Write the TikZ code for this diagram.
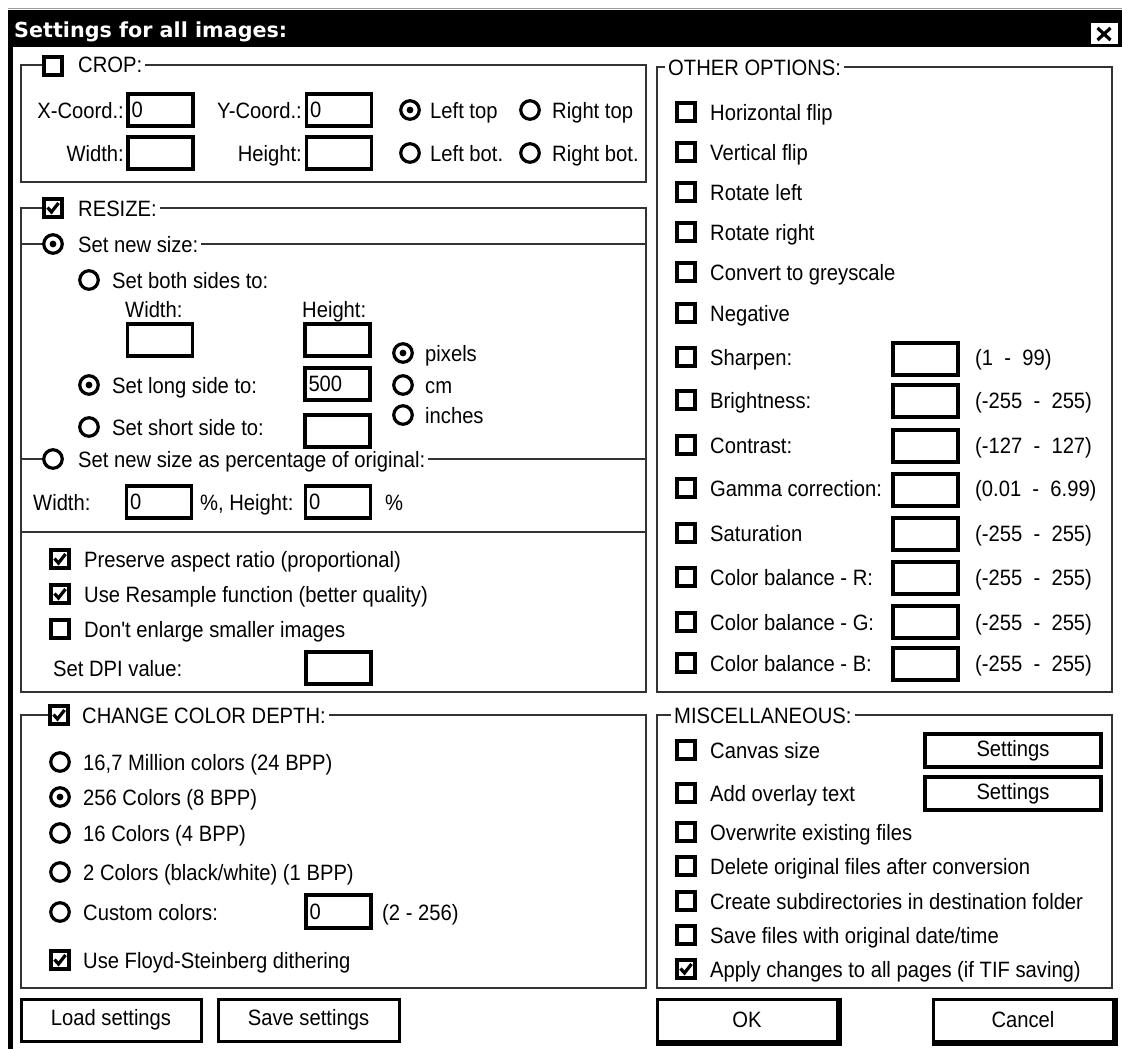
\documentclass[tikz,border=0pt]{standalone}
\usepackage{fontspec}
\setmainfont{Liberation Sans}
\newfontfamily\uifont{Liberation Sans}[FakeStretch=0.91]
\newfontfamily\ttlfont{DejaVu Sans}
\begin{document}
\begin{tikzpicture}[x=1pt,y=-1pt,
  ui/.style={font=\uifont\fontsize{22.2}{25}\selectfont},
  lbl/.style={ui, anchor=base west, inner sep=0pt},
  lblr/.style={ui, anchor=base east, inner sep=0pt},
  grp/.style={draw=black!80, line width=1.7pt},
  ghead/.style={ui, anchor=base west, fill=white, inner xsep=3pt, inner ysep=2pt},
  chk/.style={draw=black, line width=3.5pt, fill=white, minimum size=18pt, inner sep=0pt},
  chkd/.style={chk, path picture={\draw[black, line width=3.2pt] ([shift={(-5.5,-0.5)}]path picture bounding box.center) -- ([shift={(-1.5,4)}]path picture bounding box.center) -- ([shift={(5.5,-5)}]path picture bounding box.center);}},
  radio/.style={circle, draw=black, line width=3.2pt, fill=white, minimum size=18.5pt, inner sep=0pt},
  radiosel/.style={radio, path picture={\fill[black] (path picture bounding box.center) circle (3.4pt);}},
  field/.style={ui, draw=black, line width=3.6pt, fill=white, text width=58pt, align=left, inner xsep=3.5pt, inner ysep=0pt, minimum height=32.5pt},
  btn/.style={ui, draw=black, line width=3pt, fill=white, inner sep=0pt},
  shadow/.style={line width=4pt}
]
\fill[white] (0,0) rectangle (1122,1049);
\useasboundingbox (0,0) rectangle (1122,1049);

% window frame and title bar
\draw[black!40, line width=1pt] (8,8.5) -- (1122,8.5);
\fill[black] (8,10) rectangle (1122,47);
\fill[black] (8,10) rectangle (12.5,1049);
\node[anchor=base west, text=white, font=\ttlfont\bfseries\fontsize{20.7}{24}\selectfont, inner sep=0pt] (title) at (14,38) {Settings for all images:};
\node[fill=white, minimum width=27pt, minimum height=21pt, inner sep=0pt] (close) at (1104,34) {};
\draw[line width=3.2pt] ([shift={(-6.5,-6)}]close.center) -- ([shift={(6.5,6)}]close.center);
\draw[line width=3.2pt] ([shift={(-6.5,6)}]close.center) -- ([shift={(6.5,-6)}]close.center);

% ---------------- CROP ----------------
\draw[grp] (21,65) rectangle (646,182);
\node[ghead] (croph) at (61,72.5) {\hspace{14pt}CROP:};
\node[chk] (cropchk) at (53,66) {};
\node[lblr] (xcl) at (124,118) {X-Coord.:};
\node[field] (xcf) at (160.5,110) {0};
\node[lblr] (ycl) at (302,118) {Y-Coord.:};
\node[field] (ycf) at (339,110) {0};
\node[lblr] (cwl) at (124,161) {Width:};
\node[field] (cwf) at (160.5,153) {};
\node[lblr] (chl) at (302,161) {Height:};
\node[field] (chf) at (339,153) {};
\node[radiosel] (rlt) at (410,110) {};
\node[lbl] (rltl) at (430,118) {Left top};
\node[radio] (rrt) at (530,110) {};
\node[lbl] (rrtl) at (552,118) {Right top};
\node[radio] (rlb) at (410,153) {};
\node[lbl] (rlbl) at (430,161) {Left bot.};
\node[radio] (rrb) at (530,153) {};
\node[lbl] (rrbl) at (552,161) {Right bot.};

% ---------------- RESIZE ----------------
\draw[grp] (21,208) rectangle (646,532);
\node[ghead] (resh) at (61,216) {\hspace{14pt}RESIZE:};
\node[chkd] (reschk) at (53,208) {};
\draw[grp] (21,244) -- (646,244);
\node[ghead] (newh) at (61,252) {\hspace{14pt}Set new size:};
\node[radiosel] (newr) at (53,244) {};
\node[radio] (bothr) at (89,280) {};
\node[lbl] (bothl) at (112,288) {Set both sides to:};
\node[lbl] (bwl) at (125,317.5) {Width:};
\node[lbl] (bhl) at (302,317.5) {Height:};
\node[field] (bwf) at (160,340) {};
\node[field] (bhf) at (337.5,340) {};
\node[radiosel] (pxr) at (403,353) {};
\node[lbl] (pxl) at (425,361) {pixels};
\node[radio] (cmr) at (403,385) {};
\node[lbl] (cml) at (425,393) {cm};
\node[radio] (inr) at (403,415) {};
\node[lbl] (inl) at (425,423) {inches};
\node[radiosel] (longr) at (89,385) {};
\node[lbl] (longl) at (112,393) {Set long side to:};
\node[field] (longf) at (337.5,384) {500};
\node[radio] (shortr) at (89,427) {};
\node[lbl] (shortl) at (112,435) {Set short side to:};
\node[field] (shortf) at (337.5,431) {};
\draw[grp] (21,459) -- (646,459);
\node[ghead] (pcth) at (61,467) {\hspace{14pt}Set new size as percentage of original:};
\node[radio] (pctr) at (53,459) {};
\node[lbl] (pwl) at (33,510) {Width:};
\node[field] (pwf) at (159,502) {0};
\node[lbl] (phl) at (200,510) {\%, Height:};
\node[field] (phf) at (338,502) {0};
\node[lbl] (ppl) at (385,510) {\%};

% ---------------- options ----------------
\draw[grp] (646,532) |- (21,692) -- (21,532);
\node[chkd] (presc) at (60,559) {};
\node[lbl] (presl) at (84,567) {Preserve aspect ratio (proportional)};
\node[chkd] (resac) at (60,594) {};
\node[lbl] (resal) at (84,602) {Use Resample function (better quality)};
\node[chk] (enlc) at (60,629) {};
\node[lbl] (enll) at (84,637) {Don't enlarge smaller images};
\node[lbl] (dpil) at (53,676) {Set DPI value:};
\node[field] (dpif) at (338.5,668) {};

% ---------------- CHANGE COLOR DEPTH ----------------
\draw[grp] (21,715) rectangle (646,988);
\node[ghead] (cdh) at (67,723) {\hspace{12pt}CHANGE COLOR DEPTH:};
\node[chkd] (cdchk) at (59,715) {};
\node[radio] (c24r) at (60,762) {};
\node[lbl] (c24l) at (83,770) {16,7 Million colors (24 BPP)};
\node[radiosel] (c8r) at (60,797) {};
\node[lbl] (c8l) at (83,805) {256 Colors (8 BPP)};
\node[radio] (c4r) at (60,833) {};
\node[lbl] (c4l) at (83,841) {16 Colors (4 BPP)};
\node[radio] (c1r) at (60,872) {};
\node[lbl] (c1l) at (83,880) {2 Colors (black/white) (1 BPP)};
\node[radio] (ccr) at (60,912) {};
\node[lbl] (ccl) at (83,920) {Custom colors:};
\node[field] (ccf) at (338.5,911.5) {0};
\node[lbl] (ccrange) at (382,920) {(2 - 256)};
\node[chkd] (fsc) at (60,960) {};
\node[lbl] (fsl) at (83,968) {Use Floyd-Steinberg dithering};

% buttons left
\node[btn, minimum width=180pt, minimum height=42pt] (loadb) at (111,1020) {Load settings};
\node[btn, minimum width=181pt, minimum height=42pt] (saveb) at (308.5,1020) {Save settings};

% ---------------- OTHER OPTIONS ----------------
\draw[grp] (657,67) rectangle (1112,692);
\node[ghead] (ooh) at (665,75) {OTHER OPTIONS:};
\node[chk] (o1c) at (686,112) {};  \node[lbl] (o1l) at (710,120) {Horizontal flip};
\node[chk] (o2c) at (686,152) {};  \node[lbl] (o2l) at (710,160) {Vertical flip};
\node[chk] (o3c) at (686,192) {};  \node[lbl] (o3l) at (710,200) {Rotate left};
\node[chk] (o4c) at (686,232) {};  \node[lbl] (o4l) at (710,240) {Rotate right};
\node[chk] (o5c) at (686,272) {};  \node[lbl] (o5l) at (710,280) {Convert to greyscale};
\node[chk] (o6c) at (686,313) {};  \node[lbl] (o6l) at (710,321) {Negative};
\node[chk] (o7c) at (686,357) {};  \node[lbl] (o7l) at (710,365) {Sharpen:};
\node[field] (o7f) at (925.5,359) {};  \node[lbl] (o7r) at (975,365) {(1~~-~~99)};
\node[chk] (o8c) at (686,400) {};  \node[lbl] (o8l) at (710,408) {Brightness:};
\node[field] (o8f) at (925.5,401) {};  \node[lbl] (o8r) at (975,408) {(-255~~-~~255)};
\node[chk] (o9c) at (686,445) {};  \node[lbl] (o9l) at (710,453) {Contrast:};
\node[field] (o9f) at (925.5,446) {};  \node[lbl] (o9r) at (975,453) {(-127~~-~~127)};
\node[chk] (o10c) at (686,488) {}; \node[lbl] (o10l) at (710,496) {Gamma correction:};
\node[field] (o10f) at (925.5,490) {}; \node[lbl] (o10r) at (975,496) {(0.01~~-~~6.99)};
\node[chk] (o11c) at (686,533) {}; \node[lbl] (o11l) at (710,541) {Saturation};
\node[field] (o11f) at (925.5,534) {}; \node[lbl] (o11r) at (975,541) {(-255~~-~~255)};
\node[chk] (o12c) at (686,577) {}; \node[lbl] (o12l) at (710,585) {Color balance - R:};
\node[field] (o12f) at (925.5,578) {}; \node[lbl] (o12r) at (975,585) {(-255~~-~~255)};
\node[chk] (o13c) at (686,622) {}; \node[lbl] (o13l) at (710,630) {Color balance - G:};
\node[field] (o13f) at (925.5,622) {}; \node[lbl] (o13r) at (975,630) {(-255~~-~~255)};
\node[chk] (o14c) at (686,663) {}; \node[lbl] (o14l) at (710,671) {Color balance - B:};
\node[field] (o14f) at (925.5,664) {}; \node[lbl] (o14r) at (975,671) {(-255~~-~~255)};

% ---------------- MISCELLANEOUS ----------------
\draw[grp] (657,715) rectangle (1112,988);
\node[ghead] (mh) at (671,723) {MISCELLANEOUS:};
\node[chk] (m1c) at (686,750) {}; \node[lbl] (m1l) at (710,758) {Canvas size};
\node[btn, line width=3.8pt, minimum width=176pt, minimum height=33pt] (m1b) at (1013,750.5) {Settings};
\node[chk] (m2c) at (686,793) {}; \node[lbl] (m2l) at (710,801) {Add overlay text};
\node[btn, line width=3.8pt, minimum width=176pt, minimum height=33pt] (m2b) at (1013,793.5) {Settings};
\node[chk] (m3c) at (686,832) {}; \node[lbl] (m3l) at (710,840) {Overwrite existing files};
\node[chk] (m4c) at (686,866) {}; \node[lbl] (m4l) at (710,874) {Delete original files after conversion};
\node[chk] (m5c) at (686,901) {}; \node[lbl] (m5l) at (710,909) {Create subdirectories in destination folder};
\node[chk] (m6c) at (686,935) {}; \node[lbl] (m6l) at (710,943) {Save files with original date/time};
\node[chkd] (m7c) at (686,969) {}; \node[lbl] (m7l) at (710,977) {Apply changes to all pages (if TIF saving)};

% OK / Cancel
\node[btn, minimum width=180pt, minimum height=42pt] (okb) at (747,1020) {OK};
\draw[shadow] ([shift={(1,0)}]okb.north east) -- ([shift={(1,1)}]okb.south east) -- ([shift={(0,1)}]okb.south west);
\node[btn, minimum width=180pt, minimum height=42pt] (cancelb) at (1023,1020) {Cancel};
\draw[shadow] ([shift={(1,0)}]cancelb.north east) -- ([shift={(1,1)}]cancelb.south east) -- ([shift={(0,1)}]cancelb.south west);
\end{tikzpicture}
\end{document}
